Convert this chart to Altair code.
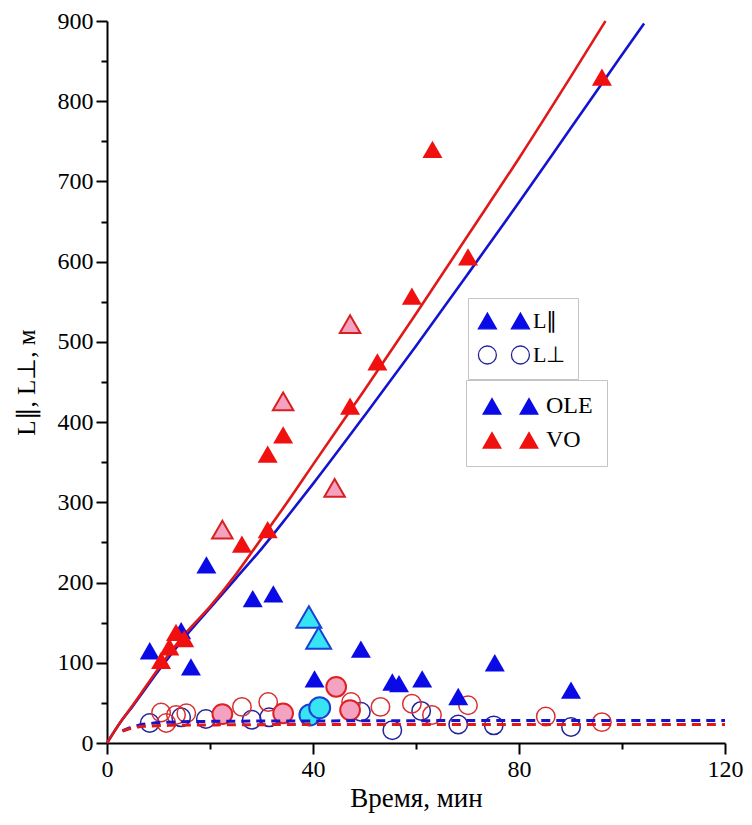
import altair as alt
import pandas as pd

FONT = "Liberation Serif, Times New Roman, serif"
BLUE = "#0a0ae6"
RED = "#f01010"
NAVY = "#22229a"
CIRC_RED = "#d83030"
PINK = "#f4a2c0"
CYAN = "#36e4f2"
LINE_RED = "#e01818"
LINE_BLUE = "#1414d0"

# ---- L parallel, OLE (blue filled triangles)
ole_par_t = [8.3, 14.4, 16.3, 19.3, 28.3, 32.3, 40.3, 49.3, 55.4, 56.7, 61.2, 68.2, 75.3, 90.1]
ole_par_L = [115, 140, 95, 222, 180, 186, 80, 117, 76, 74, 80, 58, 100, 66]
# highlighted OLE (cyan triangles)
ole_par_hl_t = [39.2, 41.1]
ole_par_hl_L = [157, 131]
# ---- L parallel, VO (red filled triangles)
vo_par_t = [10.5, 12.1, 13.4, 15.0, 26.2, 31.2, 31.2, 34.2, 47.2, 52.5, 59.2, 63.2, 70.1, 96.1]
vo_par_L = [103, 120, 138, 130, 248, 266, 360, 384, 420, 475, 557, 740, 606, 830]
# highlighted VO (pink triangles)
vo_par_hl_t = [22.4, 34.2, 44.2, 47.2]
vo_par_hl_L = [266, 426, 318, 522]
# ---- L perpendicular, OLE (open navy circles)
ole_perp_t = [8.3, 14.4, 19.2, 28.1, 31.5, 49.3, 55.4, 61.0, 68.2, 75.1, 90.1]
ole_perp_L = [25, 32, 30, 29, 32, 39, 16, 40, 23, 22, 20]
ole_perp_hl_t = [39.4, 41.3]
ole_perp_hl_L = [35, 44]
# ---- L perpendicular, VO (open red circles)
vo_perp_t = [10.5, 11.5, 13.4, 15.4, 26.2, 31.3, 47.4, 53.1, 59.2, 63.1, 70.1, 85.2, 96.1]
vo_perp_L = [38, 25, 35, 37, 45, 51, 51, 45, 49, 35, 47, 33, 26]
vo_perp_hl_t = [22.4, 34.2, 44.5, 47.2]
vo_perp_hl_L = [36, 37, 70, 41]

# ---- fitted curves
fit_vo_par_t = [0, 2.5, 5, 10, 15, 20, 25, 30, 35, 40, 50, 60, 70, 80, 90, 96.8]
fit_vo_par_L = [0, 25, 47, 93, 135, 170, 210, 255, 300, 347, 440, 535, 632, 729, 830, 900]
fit_ole_par_t = [0, 2.5, 5, 10, 15, 20, 25, 30, 35, 40, 50, 60, 70, 80, 90, 100, 104.3]
fit_ole_par_L = [0, 25, 46, 90, 131, 168, 205, 242, 282, 323, 408, 495, 584, 674, 766, 858, 897]
fit_ole_perp_t = [3, 4.5, 6, 8, 12, 20, 40, 80, 120]
fit_ole_perp_L = [15, 19, 22, 24, 26, 27, 27.5, 28, 28]
fit_vo_perp_t = [3, 4.5, 6, 8, 12, 20, 40, 80, 120]
fit_vo_perp_L = [15, 18, 20, 21, 22, 22.5, 23, 23, 23]

PAR = "L∥"
PERP = "L⊥"


def frame(t, L, group, kind):
    return pd.DataFrame({"t": t, "L": L, "group": group, "kind": kind})


X = alt.X(
    "t:Q",
    scale=alt.Scale(domain=[0, 120], nice=False, zero=False),
    axis=alt.Axis(
        title="Время, мин",
        values=list(range(0, 121, 20)),
        labelExpr="datum.value % 40 === 0 ? datum.label : ''",
        tickSize={"condition": {"test": "datum.value % 40 === 0", "value": 11}, "value": 6},
        labelOverlap=False,
        labelFlush=False,
        grid=False,
        domainColor="black",
        domainWidth=2,
        tickColor="black",
        tickWidth=2,
        labelFont=FONT,
        labelFontSize=24,
        labelColor="black",
        labelPadding=3,
        titleFont=FONT,
        titleFontSize=27,
        titleFontWeight="normal",
        titleColor="black",
        titlePadding=4,
    ),
)
Y = alt.Y(
    "L:Q",
    scale=alt.Scale(domain=[0, 900], nice=False, zero=False),
    axis=alt.Axis(
        title="L∥, L⊥, м",
        values=list(range(0, 901, 50)),
        labelExpr="datum.value % 100 === 0 ? datum.label : ''",
        tickSize={"condition": {"test": "datum.value % 100 === 0", "value": 11}, "value": 6},
        labelOverlap=False,
        labelFlush=False,
        grid=False,
        domainColor="black",
        domainWidth=2,
        tickColor="black",
        tickWidth=2,
        labelFont=FONT,
        labelFontSize=24,
        labelColor="black",
        labelPadding=3,
        titleFont=FONT,
        titleFontSize=25,
        titleFontWeight="normal",
        titleColor="black",
        titlePadding=18,
    ),
)

# double symbols for the legends (two glyphs side by side)
TRI2_A = "M-1.4,0.87L-0.4,-0.87L0.6,0.87Z M2.27,0.87L3.27,-0.87L4.27,0.87Z"
CIRC2_A = "M0.6,0A1,1,0,1,1,-1.4,0A1,1,0,1,1,0.6,0Z M4.27,0A1,1,0,1,1,2.27,0A1,1,0,1,1,4.27,0Z"
TRI2_B = "M-1,0.87L0,-0.87L1,0.87Z M2.7,0.87L3.7,-0.87L4.7,0.87Z"

kind_legend = alt.Legend(
    title=None,
    orient="none",
    legendX=361,
    legendY=277,
    direction="vertical",
    symbolSize=324,
    symbolOpacity=1,
    symbolStrokeWidth=1.3,
    labelFont=FONT,
    labelFontSize=22,
    labelColor="black",
    labelOffset=31,
    padding=12,
    rowPadding=11,
    strokeColor="#c4c4c4",
    fillColor="white",
)

color_legend = alt.Legend(
    title=None,
    orient="none",
    legendX=359,
    legendY=359,
    direction="vertical",
    symbolType=TRI2_B,
    symbolSize=400,
    symbolStrokeWidth=0,
    symbolOpacity=1,
    labelFont=FONT,
    labelFontSize=24,
    labelColor="black",
    labelOffset=42,
    padding=14,
    rowPadding=10,
    strokeColor="#c4c4c4",
    fillColor="white",
)

tri_df = pd.concat(
    [frame(ole_par_t, ole_par_L, "OLE", PAR), frame(vo_par_t, vo_par_L, "VO", PAR)],
    ignore_index=True,
)
circ_df = pd.concat(
    [frame(ole_perp_t, ole_perp_L, "OLE", PERP), frame(vo_perp_t, vo_perp_L, "VO", PERP)],
    ignore_index=True,
)
all_df = pd.concat([tri_df, circ_df], ignore_index=True)


def fit_line(t, L, color, dash=None):
    kw = dict(color=color, strokeWidth=2.6, interpolate="monotone")
    if dash:
        kw["strokeDash"] = dash
        kw["strokeWidth"] = 3
    return alt.Chart(pd.DataFrame({"t": t, "L": L})).mark_line(**kw).encode(x=X, y=Y)


def hl_points(t, L, shape, fill, stroke, size):
    return (
        alt.Chart(pd.DataFrame({"t": t, "L": L}))
        .mark_point(shape=shape, filled=True, fill=fill, stroke=stroke, strokeWidth=2,
                    size=size, opacity=1)
        .encode(x=X, y=Y)
    )


line_ole = fit_line(fit_ole_par_t, fit_ole_par_L, LINE_BLUE)
line_vo = fit_line(fit_vo_par_t, fit_vo_par_L, LINE_RED)

circles = (
    alt.Chart(circ_df)
    .mark_point(shape="circle", filled=False, size=340, strokeWidth=1.5, opacity=1)
    .encode(
        x=X,
        y=Y,
        stroke=alt.Stroke(
            "group:N",
            scale=alt.Scale(domain=["OLE", "VO"], range=[NAVY, CIRC_RED]),
            legend=None,
        ),
    )
)

circ_pink = hl_points(vo_perp_hl_t, vo_perp_hl_L, "circle", PINK, "#e02020", 390)
circ_cyan = hl_points(ole_perp_hl_t, ole_perp_hl_L, "circle", CYAN, "#1a40d8", 440)

triangles = (
    alt.Chart(tri_df)
    .mark_point(shape="triangle-up", filled=True, size=400, strokeWidth=0, opacity=1)
    .encode(
        x=X,
        y=Y,
        color=alt.Color(
            "group:N",
            scale=alt.Scale(domain=["OLE", "VO"], range=[BLUE, RED]),
            legend=color_legend,
        ),
    )
)

# invisible copy of all points that only carries the L∥ / L⊥ legend
kind_key = (
    alt.Chart(all_df)
    .mark_point(filled=True, opacity=0)
    .encode(
        x=X,
        y=Y,
        shape=alt.Shape("kind:N", scale=alt.Scale(domain=[PAR, PERP], range=[TRI2_A, CIRC2_A]),
                        legend=kind_legend),
        fill=alt.Fill("kind:N", scale=alt.Scale(domain=[PAR, PERP], range=[BLUE, "transparent"]),
                      legend=kind_legend),
        stroke=alt.Stroke("kind:N", scale=alt.Scale(domain=[PAR, PERP], range=[BLUE, NAVY]),
                          legend=kind_legend),
    )
)

tri_pink = hl_points(vo_par_hl_t, vo_par_hl_L, "triangle-up", PINK, "#d82020", 420)
tri_cyan = hl_points(ole_par_hl_t, ole_par_hl_L, "triangle-up", CYAN, "#1a40d8", 620)

dash_ole = fit_line(fit_ole_perp_t, fit_ole_perp_L, LINE_BLUE, dash=[9, 6])
dash_vo = fit_line(fit_vo_perp_t, fit_vo_perp_L, LINE_RED, dash=[9, 6])

chart = (
    alt.layer(
        line_ole, line_vo,
        circles, circ_pink, circ_cyan,
        triangles, tri_pink, tri_cyan,
        dash_ole, dash_vo,
        kind_key,
    )
    .resolve_scale(stroke="independent", fill="independent", shape="independent", color="independent")
    .properties(
        width=618,
        height=722,
        autosize=alt.AutoSizeParams(type="none"),
        padding={"left": 99, "top": 13, "right": 19, "bottom": 72},
        background="white",
    )
    .configure(font=FONT)
    .configure_axis(labelFont=FONT, titleFont=FONT)
    .configure_legend(labelFont=FONT)
    .configure_view(stroke=None)
)

chart.save("out.html", embed_options={"renderer": "svg", "actions": False})
